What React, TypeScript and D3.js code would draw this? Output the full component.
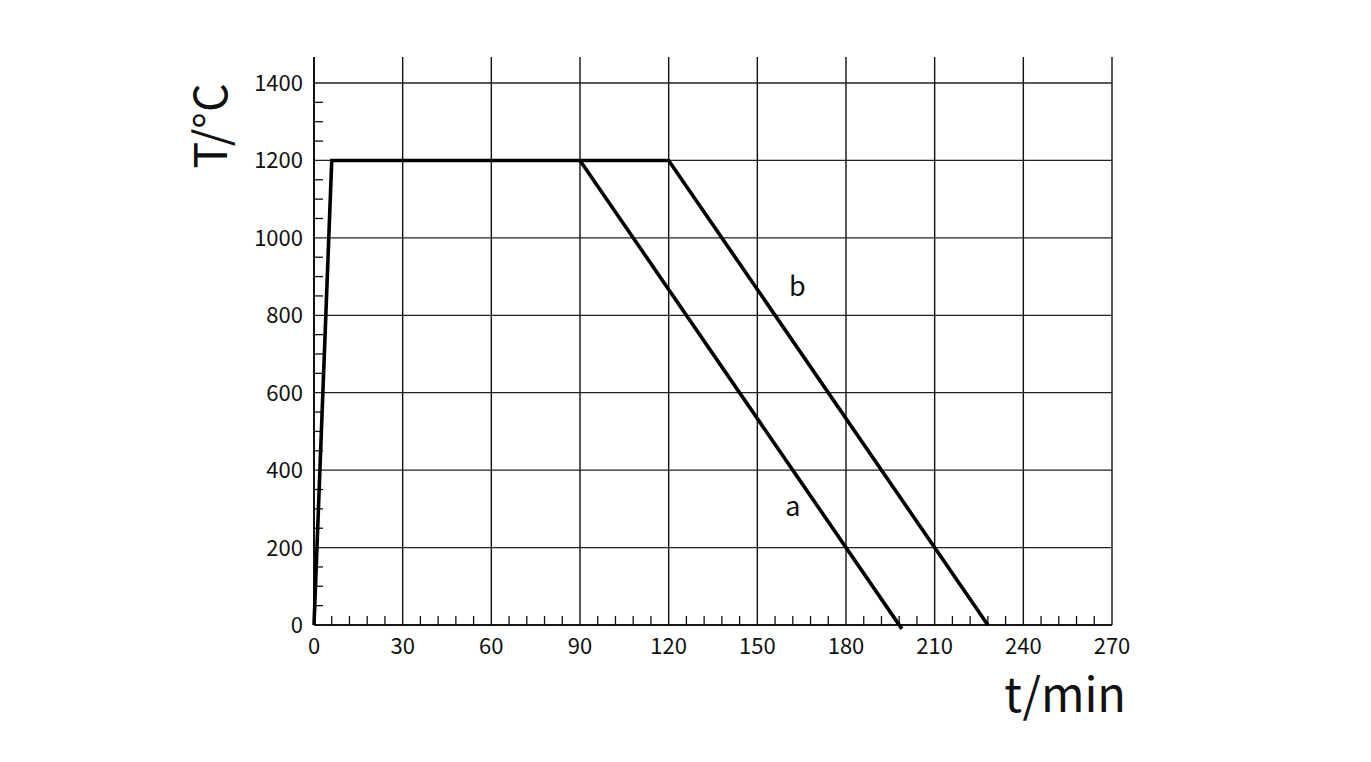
import React from "react";
import * as d3 from "d3";

const xTicks = [0, 30, 60, 90, 120, 150, 180, 210, 240, 270];
const yTicks = [0, 200, 400, 600, 800, 1000, 1200, 1400];
const heatingT = [0, 6, 90];
const heatingV = [0, 1200, 1200];
const seriesAT = [90, 198.9];
const seriesAV = [1200, -10];
const seriesBT = [90, 120, 228];
const seriesBV = [1200, 1200, 0];
const labels = [
  { name: "b", t: 163.5, v: 850 },
  { name: "a", t: 162, v: 282 },
];

export default function App() {
  const W = 1371, H = 762;
  const x = d3.scaleLinear().domain([0, 270]).range([314, 1112]);
  const y = d3.scaleLinear().domain([0, 1400]).range([625, 83]);
  const topY = 57;
  const line = d3.line<[number, number]>().x(d => x(d[0])).y(d => y(d[1]));
  const zip = (a: number[], b: number[]) => a.map((v, i) => [v, b[i]] as [number, number]);
  const xMinor = d3.range(0, 270, 6).filter(v => v % 30 !== 0);
  const yMinor = d3.range(0, 1450, 50).filter(v => v % 200 !== 0);
  const font = "'Noto Sans CJK SC', 'Noto Sans', sans-serif";
  return (
    <svg width={W} height={H} style={{ position: "absolute", left: 0, top: 0, background: "#fff" }}>
      {xTicks.map(t => (
        <line key={"vx" + t} x1={x(t)} x2={x(t)} y1={topY} y2={y(0)} stroke="#111" strokeWidth={1.4} />
      ))}
      {yTicks.map(t => (
        <line key={"hy" + t} x1={x(0)} x2={x(270)} y1={y(t)} y2={y(t)} stroke="#222" strokeWidth={1.3} />
      ))}
      {xMinor.map(t => (
        <line key={"mx" + t} x1={x(t)} x2={x(t)} y1={y(0)} y2={y(0) - 9} stroke="#111" strokeWidth={1.3} />
      ))}
      {yMinor.map(t => (
        <line key={"my" + t} x1={x(0)} x2={x(0) + 9} y1={y(t)} y2={y(t)} stroke="#111" strokeWidth={1.3} />
      ))}
      <line x1={x(0)} x2={x(0)} y1={topY} y2={y(0)} stroke="#000" strokeWidth={1.6} />
      <line x1={x(0)} x2={x(270)} y1={y(0)} y2={y(0)} stroke="#000" strokeWidth={1.6} />
      {xTicks.map(t => (
        <text key={"tx" + t} x={x(t)} y={y(0) + 29} textAnchor="middle" fontFamily={font} fontSize={22} fill="#111">{t}</text>
      ))}
      {yTicks.map(t => (
        <text key={"ty" + t} x={x(0) - 11} y={y(t) + 8} textAnchor="end" fontFamily={font} fontSize={22} fill="#111">{t}</text>
      ))}
      <path d={line(zip(heatingT, heatingV)) || ""} fill="none" stroke="#000" strokeWidth={3.6} strokeLinejoin="miter" />
      <path d={line(zip(seriesAT, seriesAV)) || ""} fill="none" stroke="#000" strokeWidth={3.6} />
      <path d={line(zip(seriesBT, seriesBV)) || ""} fill="none" stroke="#000" strokeWidth={3.6} strokeLinejoin="miter" />
      {labels.map(l => (
        <text key={l.name} x={x(l.t)} y={y(l.v)} textAnchor="middle" fontFamily={font} fontSize={27} fill="#111">{l.name}</text>
      ))}
      <text transform={`translate(227,126) rotate(-90)`} textAnchor="middle" fontFamily={font} fontSize={45} fill="#111">T/°C</text>
      <text x={1126} y={712} textAnchor="end" fontFamily={font} fontSize={47} fill="#111">t/min</text>
    </svg>
  );
}
